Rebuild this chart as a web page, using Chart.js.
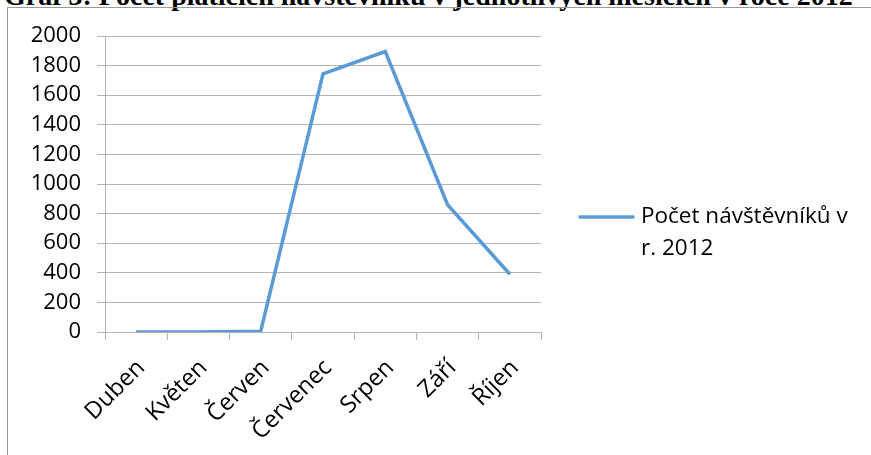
<!DOCTYPE html>
<html>
<head>
<meta charset="utf-8">
<script src="https://cdn.jsdelivr.net/npm/chart.js@4/dist/chart.umd.min.js"></script>
<style>
  html, body { margin: 0; padding: 0; background: #fff; overflow: hidden; }
  #wrap { position: relative; width: 871px; height: 455px; overflow: hidden; }
  #title {
    position: absolute; left: 4px; top: -18px; white-space: nowrap;
    font-family: "Liberation Serif", "DejaVu Serif", serif; font-weight: bold;
    font-size: 28px; line-height: 28px; color: #000;
  }
  #frame {
    position: absolute; left: 7px; top: 7px; width: 900px; height: 500px;
    border-left: 1px solid #9a9a9a; border-top: 1px solid #9a9a9a;
  }
  #c { position: absolute; left: 0; top: 0; }
</style>
</head>
<body>
<div id="wrap">
  <div id="title">Graf 3: Počet platících návštěvníků v jednotlivých měsících v roce 2012</div>
  <div id="frame"></div>
  <canvas id="c" width="871" height="455"></canvas>
</div>
<script>
// Months of the 2012 season
const months = ['Duben', 'Květen', 'Červen', 'Červenec', 'Srpen', 'Září', 'Říjen'];
// Number of visitors per month
const visitors = [0, 0, 5, 1745, 1895, 860, 390];
// Legend text, broken over two lines
const seriesLines = ['Počet návštěvníků v', 'r. 2012'];
// Value axis range
const yMin = 0, yMax = 2000, yStep = 200;

const FONT = '"Open Sans", "DejaVu Sans", sans-serif';
const FONT_SIZE = 22;
const LINE_COLOR = '#5b9bd5';
const GRID_COLOR = '#b3b3b3';

// Draws the line legend on the right side of the chart
const sideLegend = {
  id: 'sideLegend',
  afterDraw(chart) {
    const ctx = chart.ctx;
    const ds = chart.data.datasets[0];
    const x0 = 580, y0 = 217;
    ctx.save();
    ctx.strokeStyle = ds.borderColor;
    ctx.lineWidth = ds.borderWidth;
    ctx.lineCap = 'round';
    ctx.beginPath();
    ctx.moveTo(x0, y0);
    ctx.lineTo(x0 + 53, y0);
    ctx.stroke();
    ctx.fillStyle = '#000';
    ctx.font = '22.5px ' + FONT;
    ctx.textBaseline = 'middle';
    ctx.textAlign = 'left';
    seriesLines.forEach((t, i) => ctx.fillText(t, x0 + 61, y0 + i * 32));
    ctx.restore();
  }
};

// Category labels slanted at 45°, ending just right of each category centre
const slantedLabels = {
  id: 'slantedLabels',
  afterDraw(chart) {
    const ctx = chart.ctx;
    const xs = chart.scales.x;
    ctx.save();
    ctx.fillStyle = '#000';
    ctx.font = '23.5px ' + FONT;
    ctx.textAlign = 'right';
    ctx.textBaseline = 'middle';
    chart.data.labels.forEach((lab, i) => {
      const x = xs.getPixelForTick(i) + 5;
      const y = xs.top + 32;
      ctx.save();
      ctx.translate(x, y);
      ctx.rotate(-Math.PI / 4);
      ctx.fillText(lab, 0, 0);
      ctx.restore();
    });
    ctx.restore();
  }
};

new Chart(document.getElementById('c'), {
  type: 'line',
  data: {
    labels: months,
    datasets: [{
      label: seriesLines.join(' '),
      data: visitors,
      borderColor: LINE_COLOR,
      backgroundColor: LINE_COLOR,
      borderWidth: 3.5,
      pointRadius: 0,
      tension: 0,
      fill: false
    }]
  },
  options: {
    responsive: false,
    animation: false,
    layout: { padding: { left: 8, top: 36, right: 330, bottom: 0 } },
    plugins: { legend: { display: false }, tooltip: { enabled: false } },
    scales: {
      x: {
        offset: true,
        grid: { display: true, drawOnChartArea: false, drawTicks: true, tickLength: 8, offset: true, color: GRID_COLOR, lineWidth: 1 },
        border: { display: true, color: GRID_COLOR, width: 1 },
        ticks: { display: false, autoSkip: false },
        afterFit(scale) { scale.height = 455 - 332; }
      },
      y: {
        min: yMin, max: yMax,
        grid: { display: true, drawOnChartArea: true, drawTicks: true, tickLength: 8, color: GRID_COLOR, lineWidth: 1 },
        border: { display: true, color: GRID_COLOR, width: 1 },
        ticks: { stepSize: yStep, color: '#000', font: { family: FONT, size: FONT_SIZE }, padding: 16,
                 callback: (v) => String(v) },
        afterFit(scale) { scale.width = 105 - 8; }
      }
    }
  },
  plugins: [sideLegend, slantedLabels]
});
</script>
</body>
</html>
